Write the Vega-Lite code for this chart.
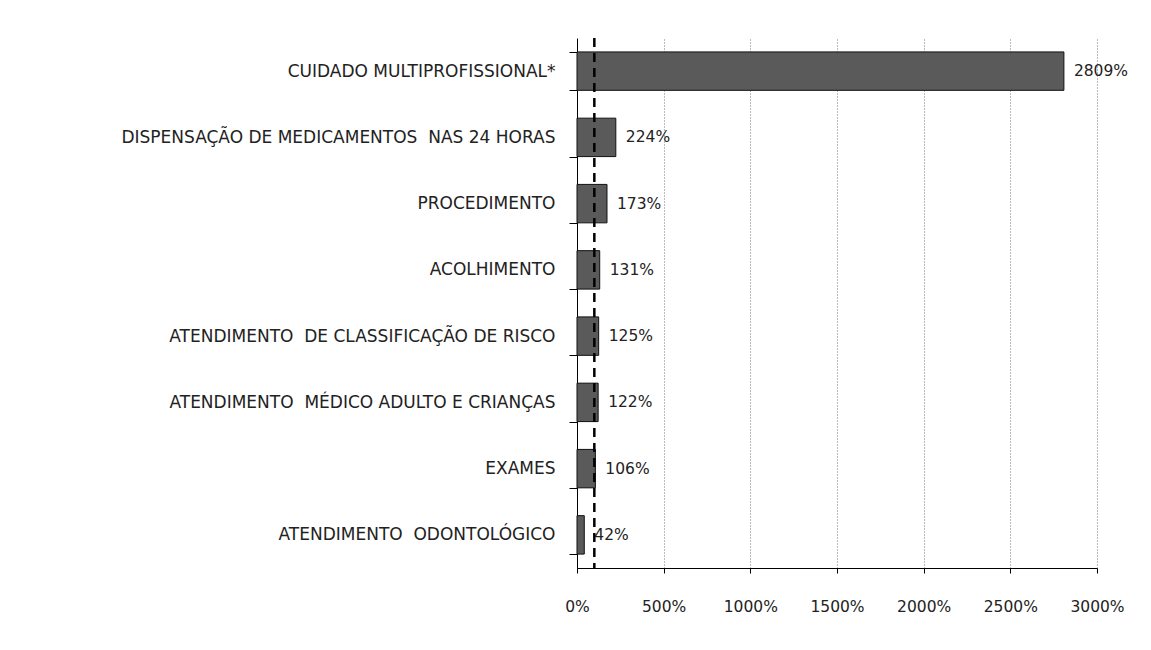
{
  "$schema": "https://vega.github.io/schema/vega-lite/v6.json",
  "autosize": "none",
  "width": 520,
  "height": 530,
  "padding": {"left": 577, "top": 38, "right": 54, "bottom": 82},
  "background": "white",
  "config": {"view": {"stroke": null}, "font": "DejaVu Sans"},
  "data": {"values": [
    {"categoria": "CUIDADO MULTIPROFISSIONAL*", "valor": 28.09},
    {"categoria": "DISPENSAÇÃO DE MEDICAMENTOS\u00a0 NAS 24 HORAS", "valor": 2.24},
    {"categoria": "PROCEDIMENTO", "valor": 1.73},
    {"categoria": "ACOLHIMENTO", "valor": 1.31},
    {"categoria": "ATENDIMENTO\u00a0 DE CLASSIFICAÇÃO DE RISCO", "valor": 1.25},
    {"categoria": "ATENDIMENTO\u00a0 MÉDICO ADULTO E CRIANÇAS", "valor": 1.22},
    {"categoria": "EXAMES", "valor": 1.06},
    {"categoria": "ATENDIMENTO\u00a0 ODONTOLÓGICO", "valor": 0.42}
  ]},
  "encoding": {
    "y": {
      "field": "categoria", "type": "nominal", "sort": null,
      "scale": {"paddingInner": 0.42, "paddingOuter": 0.21},
      "axis": {
        "title": null, "domainColor": "#000", "tickColor": "#000", "tickSize": 8,
        "tickBand": "extent", "labelFont": "DejaVu Sans", "labelFontSize": 17,
        "labelColor": "#222", "labelPadding": 14, "labelLimit": 600, "grid": false
      }
    }
  },
  "layer": [
    {
      "mark": {"type": "bar", "color": "#5a5a5a", "stroke": "#111", "strokeWidth": 1},
      "encoding": {
        "x": {
          "field": "valor", "type": "quantitative",
          "scale": {"domain": [0, 30], "nice": false},
          "axis": {
            "title": null, "format": ".0%", "values": [0, 5, 10, 15, 20, 25, 30],
            "domainColor": "#000", "tickColor": "#000", "tickSize": 5,
            "labelFont": "DejaVu Sans", "labelFontSize": 15.5, "labelColor": "#222",
            "labelPadding": 26, "labelFlush": false, "grid": true, "gridColor": "#777", "gridDash": [1, 2],
            "gridWidth": 1
          }
        }
      }
    },
    {
      "mark": {"type": "text", "align": "left", "dx": 10, "font": "DejaVu Sans", "fontSize": 15.5, "color": "#222"},
      "encoding": {
        "x": {"field": "valor", "type": "quantitative"},
        "text": {"field": "valor", "type": "quantitative", "format": ".0%"}
      }
    },
    {
      "data": {"values": [{"meta": 1}]},
      "mark": {"type": "rule", "color": "#000", "strokeWidth": 2.5, "strokeDash": [9, 6]},
      "encoding": {"x": {"field": "meta", "type": "quantitative"}, "y": null}
    }
  ]
}
